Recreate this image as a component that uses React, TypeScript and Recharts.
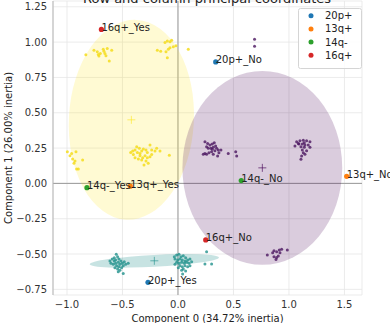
import {
  ScatterChart,
  Scatter,
  XAxis,
  YAxis,
  CartesianGrid,
  ReferenceLine,
} from 'recharts';

// axis setup
const xTicks = [-1.0, -0.5, 0.0, 0.5, 1.0, 1.5];
const yTicks = [-0.75, -0.5, -0.25, 0.0, 0.25, 0.5, 0.75, 1.0, 1.25];
const xDomain: [number, number] = [-1.126, 1.658];
const yDomain: [number, number] = [-0.79, 1.291];

// legend categories (column points)
const categories = ['20p+', '13q+', '14q-', '16q+'];
const categoryColors = ['#1f77b4', '#ff7f0e', '#2ca02c', '#d62728'];

// column coordinates, labelled
const columnNames = ['20p+_No', '20p+_Yes', '13q+_No', '13q+_Yes', '14q-_No', '14q-_Yes', '16q+_No', '16q+_Yes'];
const columnCategory = [0, 0, 1, 1, 2, 2, 3, 3];
const columnX = [0.34, -0.27, 1.52, -0.43, 0.57, -0.82, 0.25, -0.69];
const columnY = [0.86, -0.7, 0.05, -0.02, 0.02, -0.03, -0.4, 1.09];

// row coordinates, cluster 1 (yellow)
const yellowRows: [number, number][] = [
  [-0.83, 0.91], [-0.757, 0.943], [-0.727, 0.931], [-0.718, 0.913], [-0.712, 0.901],
  [-0.673, 0.95], [-0.667, 0.936], [-0.658, 0.92], [-0.649, 0.903], [-0.637, 0.955],
  [-0.597, 0.943], [-0.619, 0.866], [-0.7, 0.92],
  [-0.186, 0.943], [-0.156, 0.936], [-0.117, 0.998], [-0.096, 1.007], [-0.072, 1.002],
  [-0.057, 1.014], [-0.108, 0.931], [-0.087, 0.95], [-0.072, 0.96], [-0.042, 0.967],
  [-0.018, 0.974], [-0.096, 0.889], [0.093, 0.95],
  [-0.997, 0.224], [-0.958, 0.212], [-0.919, 0.224], [-0.949, 0.172], [-0.928, 0.158],
  [-0.859, 0.165], [-0.937, 0.142], [-0.913, 0.101], [-0.898, 0.101], [-0.973, 0.195],
  [-0.372, 0.259], [-0.348, 0.248], [-0.387, 0.236], [-0.426, 0.219], [-0.402, 0.205],
  [-0.366, 0.219], [-0.327, 0.229], [-0.312, 0.243], [-0.288, 0.236], [-0.276, 0.219],
  [-0.252, 0.271], [-0.237, 0.236], [-0.207, 0.229], [-0.192, 0.248], [-0.162, 0.229],
  [-0.342, 0.195], [-0.318, 0.181], [-0.297, 0.195], [-0.276, 0.181], [-0.252, 0.188],
  [-0.237, 0.205], [-0.387, 0.181], [-0.357, 0.172], [-0.327, 0.165], [-0.288, 0.158],
  [-0.306, 0.13], [-0.268, 0.142], [-0.078, 0.2], [-0.408, 0.229], [-0.342, 0.212],
];

// row coordinates, cluster 2 (purple)
const purpleRows: [number, number][] = [
  [0.69, 1.02], [0.69, 0.97],
  [0.243, 0.294], [0.267, 0.283], [0.288, 0.271], [0.309, 0.278], [0.327, 0.287],
  [0.339, 0.264], [0.318, 0.255], [0.297, 0.248], [0.273, 0.248], [0.258, 0.259],
  [0.348, 0.248], [0.363, 0.236], [0.333, 0.231], [0.303, 0.224], [0.279, 0.217],
  [0.243, 0.212], [0.228, 0.207], [0.258, 0.207], [0.318, 0.207], [0.357, 0.193],
  [0.369, 0.217], [0.387, 0.236], [0.309, 0.241],
  [0.453, 0.212], [0.52, 0.224], [0.529, 0.193],
  [1.069, 0.294], [1.099, 0.302], [1.129, 0.306], [1.159, 0.302], [1.189, 0.294],
  [1.09, 0.278], [1.12, 0.278], [1.144, 0.271], [1.174, 0.271], [1.054, 0.264],
  [1.108, 0.259], [1.138, 0.255], [1.189, 0.255], [1.12, 0.236], [1.159, 0.231],
  [1.129, 0.217], [1.144, 0.207], [1.114, 0.193], [1.108, 0.17], [1.084, 0.283],
  [1.138, 0.287],
  [0.805, -0.507], [0.853, -0.491], [0.865, -0.477], [0.889, -0.484], [0.913, -0.472],
  [0.934, -0.467], [0.985, -0.472], [0.865, -0.519], [0.889, -0.524], [0.904, -0.514],
  [0.883, -0.538], [0.919, -0.491],
];

// row coordinates, cluster 3 (teal)
const tealRows: [number, number][] = [
  [-0.613, -0.55], [-0.592, -0.536], [-0.574, -0.527], [-0.562, -0.543], [-0.544, -0.519],
  [-0.532, -0.536], [-0.514, -0.55], [-0.538, -0.559], [-0.562, -0.566], [-0.583, -0.573],
  [-0.604, -0.566], [-0.523, -0.573], [-0.502, -0.566], [-0.484, -0.555], [-0.553, -0.583],
  [-0.532, -0.59], [-0.508, -0.597], [-0.544, -0.606], [-0.568, -0.597], [-0.523, -0.614],
  [-0.493, -0.583], [-0.471, -0.573], [-0.538, -0.626], [-0.556, -0.502], [-0.574, -0.55],
  [-0.448, -0.566], [-0.493, -0.637],
  [-0.033, -0.519], [-0.012, -0.507], [0.009, -0.502], [0.027, -0.519], [0.048, -0.512],
  [0.069, -0.526], [-0.027, -0.536], [-0.003, -0.543], [0.018, -0.536], [0.039, -0.543],
  [0.063, -0.55], [0.087, -0.543], [0.108, -0.536], [-0.012, -0.559], [0.009, -0.566],
  [0.033, -0.559], [0.057, -0.566], [0.078, -0.559], [0.099, -0.566], [0.123, -0.555],
  [0.018, -0.583], [0.039, -0.59], [0.063, -0.583], [0.087, -0.59], [0.048, -0.606],
  [0.069, -0.621], [0.033, -0.614], [0.003, -0.597], [-0.027, -0.573], [0.108, -0.583],
  [0.042, -0.642], [0.258, -0.484], [0.243, -0.57], [0.303, -0.57],
];

// cluster ellipses: centre, semi-axes (data units), tilt in degrees
const ellipseX = [-0.42, 0.76, -0.213];
const ellipseY = [0.45, 0.11, -0.548];
const ellipseRx = [0.563, 0.72, 0.583];
const ellipseRy = [0.708, 0.686, 0.042];
const ellipseTilt = [3, 0, -3];
const clusterColors = ['#fde725', '#440154', '#21918c'];

const W = 390;
const H = 323;
const MARGIN = { top: 1, right: 28, bottom: 0, left: 0 };
const Y_AXIS_W = 53;
const X_AXIS_H = 28;
const PLOT_W = W - MARGIN.left - MARGIN.right - Y_AXIS_W;
const PLOT_H = H - MARGIN.top - MARGIN.bottom - X_AXIS_H;
const PX_X = PLOT_W / (xDomain[1] - xDomain[0]);
const PX_Y = PLOT_H / (yDomain[1] - yDomain[0]);
const FONT = 'DejaVu Sans, sans-serif';

const toPoints = (rows: [number, number][]) => rows.map(([x, y]) => ({ x, y }));

const ellipseData = ellipseX.map((x, i) => ({
  x,
  y: ellipseY[i],
  rx: ellipseRx[i],
  ry: ellipseRy[i],
  tilt: ellipseTilt[i],
}));

const columnData = columnNames.map((name, i) => ({
  name,
  x: columnX[i],
  y: columnY[i],
  cat: columnCategory[i],
}));

const fmtMinus = (s: string) => s.replace('-', '\u2212');

const makeEllipse = (color: string, opacity: number) => (props: any) => {
  const { cx, cy, payload } = props;
  const rx = payload.rx * PX_X;
  const ry = payload.ry * PX_Y;
  return (
    <g>
      <ellipse
        cx={cx}
        cy={cy}
        rx={rx}
        ry={ry}
        transform={`rotate(${payload.tilt} ${cx} ${cy})`}
        fill={color}
        fillOpacity={opacity}
      />
      <path
        d={`M${cx - 4},${cy}H${cx + 4}M${cx},${cy - 4}V${cy + 4}`}
        stroke={color}
        strokeOpacity={0.8}
        strokeWidth={0.8}
      />
    </g>
  );
};

const makeDot = (color: string, r: number, opacity: number) => (props: any) => (
  <circle cx={props.cx} cy={props.cy} r={r} fill={color} fillOpacity={opacity} />
);

const ColumnPoint = (props: any) => {
  const { cx, cy, payload } = props;
  return (
    <g>
      <circle cx={cx} cy={cy} r={2.6} fill={categoryColors[payload.cat]} />
      <text x={cx} y={cy + 1.5} fontSize={10} fill="#222" fontFamily={FONT}>
        {payload.name}
      </text>
    </g>
  );
};

export default function App() {
  return (
    <div style={{ position: 'absolute', top: 0, left: 0, width: W, height: H, overflow: 'hidden', background: '#fff' }}>
      <ScatterChart width={W} height={H} margin={MARGIN} style={{ overflow: 'visible' }}>
        <CartesianGrid stroke="#e6e6e6" strokeWidth={0.8} />
        <XAxis
          type="number"
          dataKey="x"
          domain={xDomain}
          ticks={xTicks}
          height={X_AXIS_H}
          axisLine={false}
          tickLine={false}
          tickSize={4}
          tickMargin={2}
          tick={{ fill: '#333', fontSize: 10, fontFamily: FONT }}
          tickFormatter={(v: number) => fmtMinus(v.toFixed(1))}
        />
        <YAxis
          type="number"
          dataKey="y"
          domain={yDomain}
          ticks={yTicks}
          width={Y_AXIS_W}
          axisLine={{ stroke: '#b5b5b5' }}
          tickLine={false}
          tickSize={4}
          tickMargin={2}
          tick={{ fill: '#333', fontSize: 10, fontFamily: FONT }}
          tickFormatter={(v: number) => fmtMinus(v.toFixed(2))}
        />
        <ReferenceLine x={0} stroke="#999" strokeWidth={1} />
        <ReferenceLine y={0} stroke="#999" strokeWidth={1} />
        <Scatter data={[ellipseData[0]]} shape={makeEllipse(clusterColors[0], 0.2)} isAnimationActive={false} />
        <Scatter data={[ellipseData[1]]} shape={makeEllipse(clusterColors[1], 0.2)} isAnimationActive={false} />
        <Scatter data={[ellipseData[2]]} shape={makeEllipse(clusterColors[2], 0.25)} isAnimationActive={false} />
        <Scatter data={toPoints(yellowRows)} shape={makeDot('#f5dc1c', 1.5, 0.85)} isAnimationActive={false} />
        <Scatter data={toPoints(purpleRows)} shape={makeDot('#4b1660', 1.5, 0.8)} isAnimationActive={false} />
        <Scatter data={toPoints(tealRows)} shape={makeDot('#21918c', 1.5, 0.8)} isAnimationActive={false} />
        <Scatter data={columnData} shape={ColumnPoint} isAnimationActive={false} />
      </ScatterChart>
      <svg width={W} height={H} style={{ position: 'absolute', top: 0, left: 0, pointerEvents: 'none' }}>
        <text x={207} y={3} textAnchor="middle" fontSize={13} fill="#222" fontFamily={FONT}>
          Row and column principal coordinates
        </text>
        <text x={207.5} y={321.5} textAnchor="middle" fontSize={10} fill="#222" fontFamily={FONT}>
          Component 0 (34.72% inertia)
        </text>
        <text
          x={8}
          y={148}
          textAnchor="middle"
          dominantBaseline="central"
          fontSize={10}
          fill="#222"
          fontFamily={FONT}
          transform="rotate(-90 8 148)"
        >
          Component 1 (26.00% inertia)
        </text>
        <rect x={298.5} y={8.5} width={63} height={60} rx={2} fill="#fff" fillOpacity={0.85} stroke="#d5d5d5" />
        {categories.map((c, i) => (
          <g key={c}>
            <circle cx={311} cy={15.7 + i * 13.2} r={2.5} fill={categoryColors[i]} />
            <text x={325} y={15.7 + i * 13.2} dominantBaseline="central" fontSize={10} fill="#222" fontFamily={FONT}>
              {c}
            </text>
          </g>
        ))}
      </svg>
    </div>
  );
}
